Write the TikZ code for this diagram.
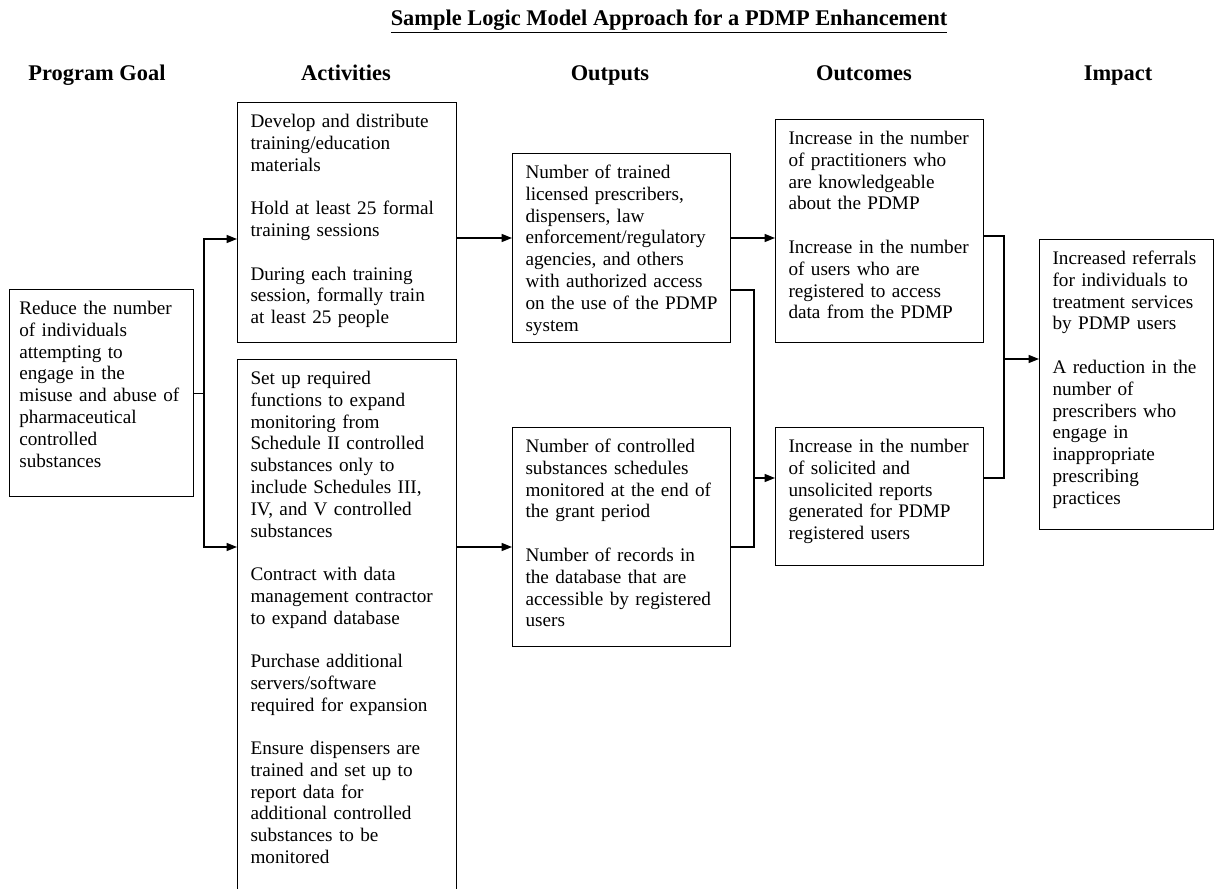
\documentclass[tikz,border=0pt]{standalone}
\usepackage{fontspec}
\setmainfont{Liberation Serif}
\usetikzlibrary{arrows.meta}

\tikzset{
  box/.style={draw, line width=0.9pt, anchor=north west, align=left,
    inner xsep=8pt, inner ysep=6pt, text height=9.6pt,
    font=\fontsize{12}{13.6}\selectfont},
  head/.style={anchor=base, font=\fontsize{14}{16}\selectfont\bfseries},
  link/.style={line width=0.9pt},
  arr/.style={link, -{Triangle[length=6.5pt,width=5pt]}}
}
\newcommand\gap{\\[13.6pt]}

\begin{document}
\begin{tikzpicture}[x=0.625pt,y=-0.625pt]
\useasboundingbox (0,0) rectangle (1214,888);

% title and column heads
\node[head] (title) at (669,25) {\underline{Sample Logic Model Approach for a PDMP Enhancement}};
\node[head] (hgoal) at (97,80) {Program Goal};
\node[head] (hact) at (346,80) {Activities};
\node[head] (hout) at (610,80) {Outputs};
\node[head] (houtc) at (864,80) {Outcomes};
\node[head] (himp) at (1118,80) {Impact};

% boxes
\node[box, inner xsep=6pt, text width=103pt, text depth=107.8pt] (goal) at (9,289)
  {Reduce the number\\ of individuals\\ attempting to\\ engage in the\\ misuse and abuse of\\ pharmaceutical\\ controlled\\ substances};
\node[box, text width=120.9pt, text depth=128.4pt] (act1) at (237,102)
  {Develop and distribute\\ training/education\\ materials\gap
   Hold at least 25 formal\\ training sessions\gap
   During each training\\ session, formally train\\ at least 25 people};
\node[box, text width=120.9pt, text depth=316.5pt] (act2) at (237,359)
  {Set up required\\ functions to expand\\ monitoring from\\ Schedule II controlled\\ substances only to\\ include Schedules III,\\ IV, and V controlled\\ substances\gap
   Contract with data\\ management contractor\\ to expand database\gap
   Purchase additional\\ servers/software\\ required for expansion\gap
   Ensure dispensers are\\ trained and set up to\\ report data for\\ additional controlled\\ substances to be\\ monitored};
\node[box, text width=120.25pt, text depth=96.5pt] (out1) at (512,153)
  {Number of trained\\ licensed prescribers,\\ dispensers, law\\ enforcement/regulatory\\ agencies, and others\\ with authorized access\\ on the use of the PDMP\\ system};
\node[box, text width=120.25pt, text depth=115.3pt] (out2) at (512,427)
  {Number of controlled\\ substances schedules\\ monitored at the end of\\ the grant period\gap
   Number of records in\\ the database that are\\ accessible by registered\\ users};
\node[box, text width=114pt, text depth=117.8pt] (outc1) at (775,119)
  {Increase in the number\\ of practitioners who\\ are knowledgeable\\ about the PDMP\gap
   Increase in the number\\ of users who are\\ registered to access\\ data from the PDMP};
\node[box, text width=114pt, text depth=64.65pt] (outc2) at (775,427)
  {Increase in the number\\ of solicited and\\ unsolicited reports\\ generated for PDMP\\ registered users};
\node[box, text width=92.75pt, text depth=159.65pt] (impact) at (1039,239)
  {Increased referrals\\ for individuals to\\ treatment services\\ by PDMP users\gap
   A reduction in the\\ number of\\ prescribers who\\ engage in\\ inappropriate\\ prescribing\\ practices};

% connectors
\coordinate (split) at (goal.east -| 204,0);
\draw[link] (goal.east) -- (split);
\draw[arr] (split) |- (act1.west |- 0,239);
\draw[arr] (split) |- (act2.west |- 0,547);
\draw[arr] (act1.east |- 0,238) -- (out1.west |- 0,238);
\draw[arr] (act2.east |- 0,547) -- (out2.west |- 0,547);
\draw[arr] (out1.east |- 0,238) -- (outc1.west |- 0,238);
\coordinate (join1) at (754,478);
\draw[link] (out1.east |- 0,290) -| (join1) |- (out2.east |- 0,547);
\draw[arr] (join1) -- (outc2.west |- join1);
\coordinate (join2) at (1004,359);
\draw[link] (outc1.east |- 0,236) -| (join2) |- (outc2.east |- 0,478);
\draw[arr] (join2) -- (impact.west |- join2);
\end{tikzpicture}
\end{document}
